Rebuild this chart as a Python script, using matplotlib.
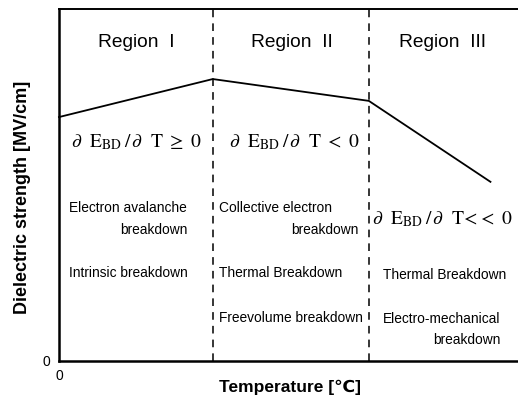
import matplotlib
matplotlib.use('Agg')
import matplotlib.pyplot as plt

# ============================================
# Data (schematic, arbitrary units)
# ============================================
boundaries = [33.5, 67.5]
temp_pts = [0, 33.5, 67.5, 94]
strength_pts = [69.3, 80.1, 73.9, 50.9]

region_names = ['Region  I', 'Region  II', 'Region  III']
region_centers = [16.8, 50.8, 83.6]

slope_labels = [r'$\partial\ \ \mathrm{E}_{\mathrm{BD}}\,/\,\partial\ \ \mathrm{T}\ \geq\ 0$',
                r'$\partial\ \ \mathrm{E}_{\mathrm{BD}}\,/\,\partial\ \ \mathrm{T}\ <\ 0$',
                r'$\partial\ \ \mathrm{E}_{\mathrm{BD}}\,/\,\partial\ \ \mathrm{T}\!<\!<\ 0$']
slope_pos = [(16.8, 62.3), (51.3, 62.3), (83.6, 40.3)]

# mechanism notes: (x, y, text, ha)
mechanisms = [
    (2.1, 43.5, 'Electron avalanche', 'left'),
    (28.1, 37.2, 'breakdown', 'right'),
    (2.1, 25.0, 'Intrinsic breakdown', 'left'),
    (34.8, 43.5, 'Collective electron', 'left'),
    (65.2, 37.2, 'breakdown', 'right'),
    (34.8, 25.0, 'Thermal Breakdown', 'left'),
    (34.8, 12.2, 'Freevolume breakdown', 'left'),
    (70.6, 24.4, 'Thermal Breakdown', 'left'),
    (70.6, 12.0, 'Electro-mechanical', 'left'),
    (96.3, 6.0, 'breakdown', 'right'),
]

# ============================================
# Figure
# ============================================
plt.rcParams['mathtext.fontset'] = 'stix'

fig = plt.figure(figsize=(5.18, 4.0), dpi=100)
ax = fig.add_axes([59 / 518, 39 / 400, 459 / 518, 352 / 400])
ax.set_xlim(0, 100)
ax.set_ylim(0, 100)

ax.plot(temp_pts, strength_pts, color='black', lw=1.3, clip_on=False)
for b in boundaries:
    ax.axvline(b, color='black', lw=1.1, ls=(0, (5, 4)))

for name, xc in zip(region_names, region_centers):
    ax.text(xc, 90.5, name, ha='center', va='center', fontsize=13.8,
            family='Liberation Sans')

for lab, (xp, yp) in zip(slope_labels, slope_pos):
    ax.text(xp, yp, lab, ha='center', va='center', fontsize=14)

for xp, yp, txt, ha in mechanisms:
    ax.text(xp, yp, txt, ha=ha, va='center', fontsize=9.9, family='Liberation Sans')

ax.spines['right'].set_visible(False)
ax.spines['left'].set_linewidth(1.8)
ax.spines['bottom'].set_linewidth(1.8)
ax.spines['top'].set_linewidth(1.4)
ax.set_xticks([0])
ax.set_yticks([0])
ax.tick_params(length=0, labelsize=10, pad=6)
for t in ax.get_xticklabels() + ax.get_yticklabels():
    t.set_family('Liberation Sans')
ax.set_xlabel('Temperature [\u2103]', fontsize=12.5, fontweight='bold',
              family=['Liberation Sans', 'DejaVu Sans'])
ax.set_ylabel('Dielectric strength [MV/cm]', fontsize=13, fontweight='bold',
              family='Liberation Sans')
ax.xaxis.set_label_coords(0.503, -0.052)
ax.yaxis.set_label_coords(-0.062, 0.465)

fig.savefig('out.png', dpi=100)
